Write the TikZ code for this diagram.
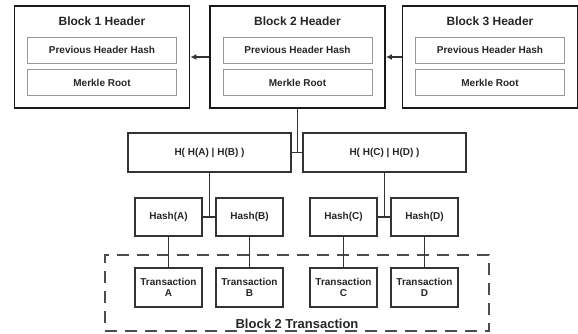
\documentclass[tikz,border=0pt]{standalone}
\usepackage{fontspec}
\setmainfont{Liberation Sans}
\usetikzlibrary{positioning,arrows.meta,calc}

\begin{document}
\begin{tikzpicture}[x=1pt, y=-1pt, font=\bfseries\fontsize{10}{11}\selectfont,
  hdr/.style={draw=black!90, line width=1.9pt, minimum width=175pt, minimum height=102pt, inner sep=0pt},
  ttl/.style={font=\bfseries\fontsize{12}{13}\selectfont, text=black!85},
  fld/.style={draw=black!40, line width=0.9pt, minimum width=149pt, minimum height=26pt, inner sep=0pt, text=black!85},
  hbox/.style={draw=black!80, line width=1.3pt, minimum width=163pt, minimum height=39pt, inner sep=0pt, text=black!85},
  leaf/.style={draw=black!80, line width=1.3pt, minimum width=67pt, minimum height=38pt, inner sep=0pt,
               align=center, text=black!85},
  conn/.style={draw=black!80, line width=1.5pt},
  arr/.style={conn, -{Latex[length=6pt, width=6pt]}},
  grp/.style={draw=black!70, line width=1.4pt, dash pattern=on 12pt off 8pt, minimum width=384pt, minimum height=76pt}]

\useasboundingbox (0,0) rectangle (578,334);

% row 1: the three block headers
\node[hdr] (b1) at (102,57) {};
\node[hdr] (b2) at (297.5,57) {};
\node[hdr] (b3) at (490,57) {};
\foreach \n/\t in {b1/1, b2/2, b3/3}{
  \node[ttl] at ($(\n.north)+(0,16)$) {Block \t\ Header};
  \node[fld] (\n prev) at ($(\n.center)+(0,-7)$) {Previous Header Hash};
  \node[fld, below=6pt of \n prev] (\n root) {Merkle Root};
}

% row 2: upper hashes
\node[hbox] (hab) at (209.5,152.5) {H( H(A) | H(B) )};
\node[hbox] (hcd) at (384.5,152.5) {H( H(C) | H(D) )};

% row 3: leaf hashes
\node[leaf] (ha) at (168.5,217) {Hash(A)};
\node[leaf] (hb) at (249.5,217) {Hash(B)};
\node[leaf] (hc) at (343.5,217) {Hash(C)};
\node[leaf] (hd) at (424.5,217) {Hash(D)};

% row 4: transactions of block 2
\node[grp] (grp) at (297,293) {};
\node[leaf, minimum height=39pt] (ta) at (168.5,287.5) {Transaction\\A};
\node[leaf, minimum height=39pt] (tb) at (249.5,287.5) {Transaction\\B};
\node[leaf, minimum height=39pt] (tc) at (343.5,287.5) {Transaction\\C};
\node[leaf, minimum height=39pt] (td) at (424.5,287.5) {Transaction\\D};
\node[font=\bfseries\fontsize{13}{14}\selectfont, text=black!85, above=0pt of grp.south] (grplab) {Block 2 Transaction};

% arrows between headers
\draw[arr] (b2.west) -- (b1.east);
\draw[arr] (b3.west) -- (b2.east);

% merkle tree links
\draw[conn] (b2.south) -- (b2.south |- hab.east);
\draw[conn] (hab.east) -- (hcd.west);
\draw[conn] (hab.south) -- (hab.south |- ha.east);
\draw[conn] (ha.east) -- (hb.west);
\draw[conn] (hcd.south) -- (hcd.south |- hc.east);
\draw[conn] (hc.east) -- (hd.west);
\draw[conn] (ha) -- (ta);
\draw[conn] (hb) -- (tb);
\draw[conn] (hc) -- (tc);
\draw[conn] (hd) -- (td);
\end{tikzpicture}
\end{document}
